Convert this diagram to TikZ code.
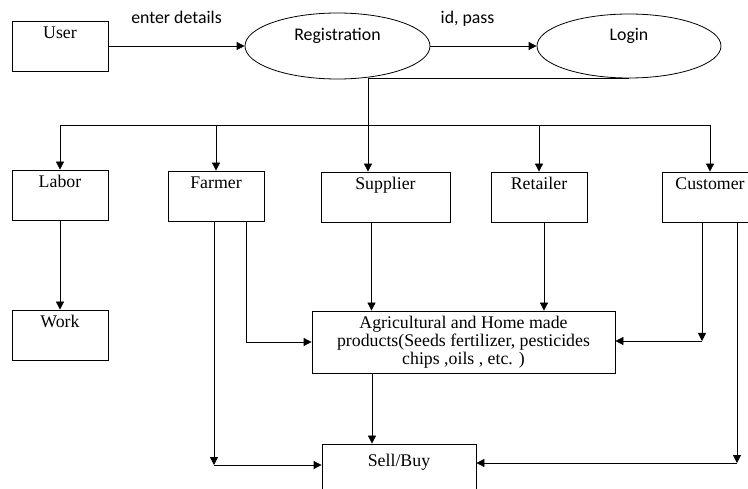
\documentclass[tikz,border=0pt]{standalone}
\usepackage{fontspec}
\setmainfont{Liberation Serif}
\newfontfamily\calib{Carlito}
\usetikzlibrary{arrows.meta,shapes.geometric}

\begin{document}
\begin{tikzpicture}[x=1pt,y=-1pt,
		Box/.style = {rectangle, draw, line width=0.8pt,% boxes with label near the top
			minimum width=96pt, minimum height=50pt, inner sep=3pt,
			text height=15pt, text depth=29pt,
			font=\fontsize{17.8}{18}\selectfont},
		Ov/.style = {ellipse, draw, line width=0.8pt,
			minimum width=185pt, minimum height=66pt,
			text height=12pt, text depth=22pt,
			font=\calib\fontsize{17.8}{20}\selectfont},
		Lbl/.style = {above=19pt, text depth=0pt, font=\calib\fontsize{17.8}{20}\selectfont},
		L/.style = {line width=0.8pt, -{Triangle[length=8pt,width=8pt]}},
		]
	\clip (0,0) rectangle (748,489);
	% top row
	\node[Box] (User) at (60,46) {User};
	\node[Ov] (Reg) at (337.5,46) {Registration};
	\node[Ov, minimum width=184pt, minimum height=64pt] (Login) at (629,46) {Login};
	\draw[L] (User) -- node[Lbl] (ed) {enter details} (Reg);
	\draw[L] (Reg) -- node[Lbl, pos=0.35] (ip) {id, pass} (Login);
	% roles
	\node[Box] (Labor) at (60,195) {Labor};
	\node[Box] (Farmer) at (216,196) {Farmer};
	\node[Box, minimum width=129pt] (Supplier) at (385.5,197) {Supplier};
	\node[Box] (Retailer) at (539,197) {Retailer};
	\node[Box] (Customer) at (710,197) {Customer};
	\node[Box] (Work) at (60,335) {Work};
	\node[draw, line width=0.8pt, minimum width=303pt, minimum height=62pt, align=center,
		font=\fontsize{17.8}{18}\selectfont] (Agri) at (463.5,342)
		{Agricultural and Home made\\products(Seeds fertilizer, pesticides\\chips ,oils , etc. )};
	\node[Box, minimum width=154pt, minimum height=60pt] (Sell) at (399,474) {Sell/Buy};
	% bus from login
	\coordinate (hub) at (368,125);
	\draw[line width=0.8pt] (Login.south) -| (hub);
	\draw[line width=0.8pt] (Labor.north |- hub) -- (Customer.north |- hub);
	\foreach \n in {Labor,Farmer,Retailer,Customer}
		\draw[L] (\n.north |- hub) -- (\n.north);
	\draw[L] (hub) -- (hub |- Supplier.north);
	% lower connectors
	\draw[L] (Labor) -- (Work);
	\draw[L] ([xshift=30pt]Farmer.south) |- (Agri.west);
	\coordinate (fl) at (214,465);
	\draw[L] (Farmer.south -| fl) -- (fl);
	\draw[L] (fl) -- (fl -| Sell.west);
	\draw[L] ([xshift=-14pt]Supplier.south) -- ([xshift=-14pt]Supplier.south |- Agri.north);
	\draw[L] ([xshift=5pt]Retailer.south) -- ([xshift=5pt]Retailer.south |- Agri.north);
	\coordinate (cl) at (702,341);
	\draw[L] (Customer.south -| cl) -- (cl);
	\draw[L] (cl) -- (cl -| Agri.east);
	\coordinate (cr) at (737,463);
	\draw[L] (Customer.south -| cr) -- (cr);
	\draw[L] (cr) -- (cr -| Sell.east);
	\draw[L] ([xshift=-91.5pt]Agri.south) -- ([xshift=-91.5pt]Agri.south |- Sell.north);
\end{tikzpicture}
\end{document}
